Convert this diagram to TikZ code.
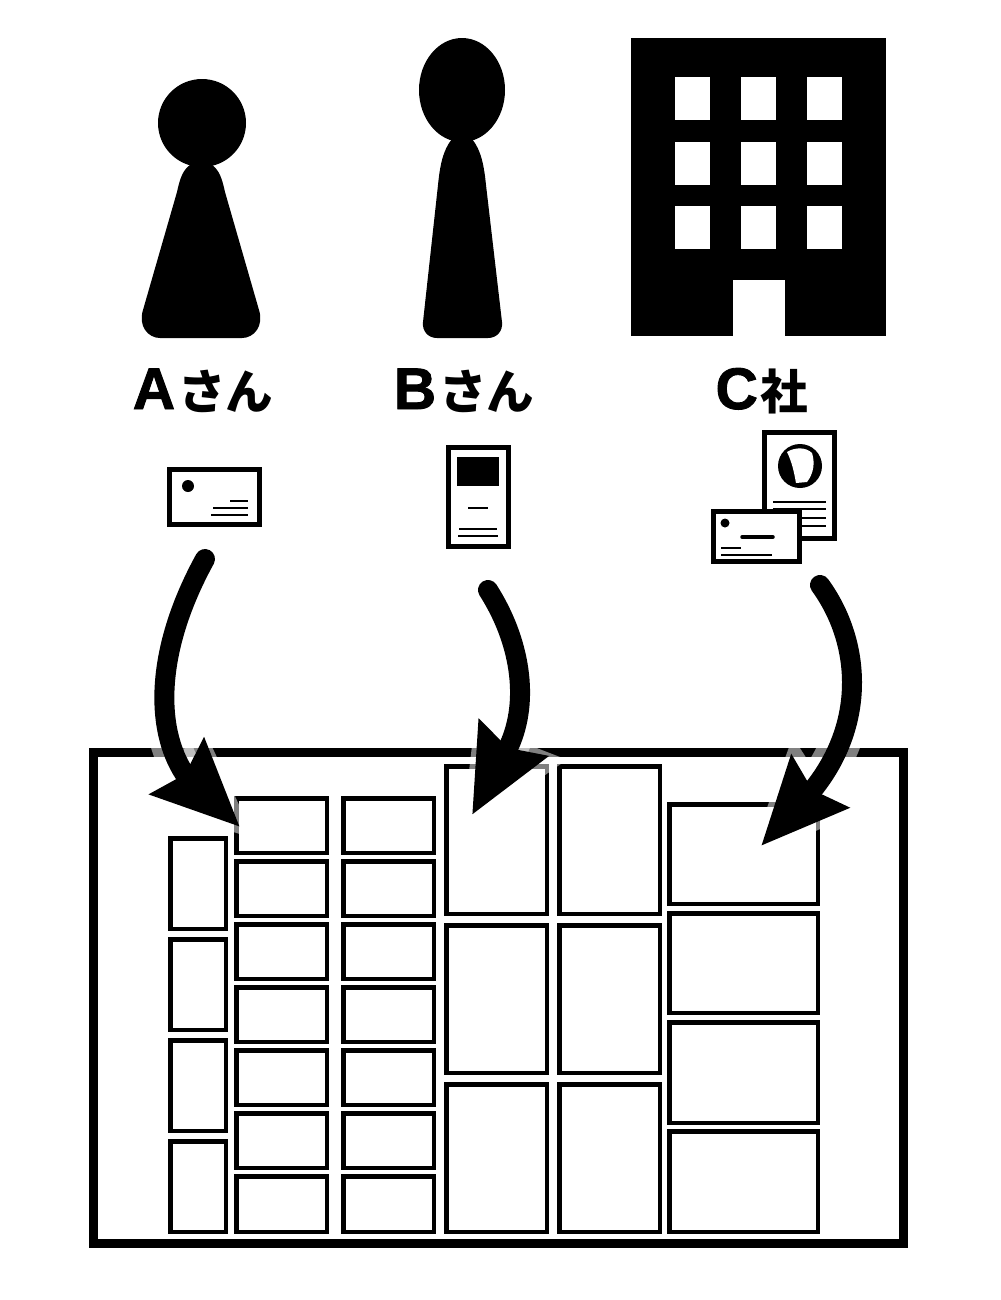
\documentclass[tikz,border=0pt]{standalone}
\usepackage{fontspec}
\usetikzlibrary{arrows.meta}
\setmainfont[BoldFeatures={FakeBold=1.5}]{Liberation Sans}
\newfontfamily\cjk[Scale=0.81, BoldFont={Noto Sans CJK JP Black}]{Noto Sans CJK JP}

\tikzset{
    cardbox/.style={draw=black, fill=white, line width=0.5mm},
    cellbox/.style={draw=black, line width=0.45mm},
    cardline/.style={line width=0.22mm},
    namelabel/.style={font=\fontsize{16.7}{20}\selectfont\bfseries, inner sep=0pt, anchor=base},
    flowarrow/.style={line width=2mm, line cap=round, -{Stealth[length=8.6mm, width=7.5mm, inset=1mm]}},
    flowhalo/.style={draw=white, opacity=0.5, line width=1.8mm, miter limit=10}
}

\begin{document}
\begin{tikzpicture}[
    x=0.1mm,    % one unit is one pixel of the sheet
    y=-0.1mm    % y runs downwards
]
    \useasboundingbox (0,0) rectangle (1000,1300);

    % --- 1. The People ---
    \fill (202,123) circle (44);
    \fill (190,165) .. controls (183,170) and (180,178) .. (177,192)
        -- (143,310) .. controls (138,326) and (148,338) .. (160,338)
        -- (242,338) .. controls (254,338) and (264,326) .. (259,310)
        -- (225,192) .. controls (222,178) and (219,170) .. (212,165) -- cycle;

    \fill (462,90) ellipse (43 and 52);
    \fill (452,139) .. controls (443,150) and (440,165) .. (438,185)
        -- (423,322) .. controls (422,331) and (428,338) .. (437,338)
        -- (488,338) .. controls (497,338) and (503,331) .. (502,322)
        -- (486,185) .. controls (484,165) and (481,150) .. (472,139) -- cycle;

    % --- 2. The Company Building ---
    \fill (631,38) rectangle (886,336);
    \foreach \wx in {675,741,807}
        \foreach \wy in {77,142,206}
            \fill[white] (\wx,\wy) rectangle ++(35,43);
    \fill[white] (733,280) rectangle (785,336);

    % --- 3. Names ---
    \node[namelabel] (nameA) at (203,409) {A\kern0.85pt{\cjk さん}};
    \node[namelabel] (nameB) at (464,409) {B\kern0.85pt{\cjk さん}};
    \node[namelabel] (nameC) at (762,409) {C\kern0.85pt{\cjk 社}};

    % --- 4. Cards ---
    % Card of A
    \draw[cardbox] (169.5,469.5) rectangle (259.5,524.5);
    \fill (188,486) circle (6);
    \draw[cardline] (230,501) -- (248,501);
    \draw[cardline] (213,508) -- (248,508);
    \draw[cardline] (211,515) -- (248,515);

    % Card of B
    \draw[cardbox] (448.5,447.5) rectangle (508.5,546.5);
    \fill (457,457) rectangle (499,486);
    \draw[cardline] (468,508) -- (488,508);
    \draw[cardline] (459,529) -- (497,529);
    \draw[cardline] (458,536) -- (498,536);

    % Flyer and card of C
    \draw[cardbox] (764.5,432.5) rectangle (834.5,538.5);
    \fill (800,466) circle (22);
    \fill[white] (787,452) .. controls (795,447) and (806,447) .. (812,453)
        .. controls (815,462) and (814,473) .. (807,482)
        -- (796,483) .. controls (794,472) and (792,462) .. (787,452) -- cycle;
    \foreach \ly in {502,509,518,526}
        \draw[cardline] (773,\ly) -- (826,\ly);
    \draw[cardbox] (713.5,511.5) rectangle (799.5,561.5);
    \fill (725,523) circle (4.5);
    \draw[line width=0.35mm, line cap=round] (742,537) -- (773,537);
    \draw[cardline] (721,548) -- (741,548);
    \draw[cardline] (721,555) -- (772,555);

    % --- 5. The Sheet and its Cells ---
    \draw[line width=0.9mm] (93.5,752.5) rectangle (903.5,1243.5);

    % Column of narrow cells
    \foreach \top/\bot in {836/931,937/1032,1038/1133,1139/1234}
        \draw[cellbox] (170.25,\top+2.25) rectangle (225.75,\bot-2.25);

    % Two columns of small cells
    \foreach \xa/\xb in {234/329,341/436}
        \foreach \top/\bot in {796/855,859/918,922/981,985/1044,1048/1107,1111/1170,1174/1234}
            \draw[cellbox] (\xa+2.25,\top+2.25) rectangle (\xb-2.25,\bot-2.25);

    % Two columns of tall cells
    \foreach \xa/\xb in {444/549,557/662}
        \foreach \top/\bot in {764/916,923/1075,1082/1234}
            \draw[cellbox] (\xa+2.25,\top+2.25) rectangle (\xb-2.25,\bot-2.25);

    % Column of wide cells
    \foreach \top/\bot in {802/906,911/1015,1020/1125,1129/1234}
        \draw[cellbox] (669.25,\top+2.25) rectangle (817.75,\bot-2.25);

    % --- 6. Arrows from the Cards to the Cells ---
    \coordinate (startA) at (205,559);
    \coordinate (bendA) at (184,773);
    \coordinate (endA) at (240,827);
    \coordinate (startB) at (488,590);
    \coordinate (bendB) at (509,746);
    \coordinate (endB) at (472,815);
    \coordinate (startC) at (820,585);
    \coordinate (bendC) at (815,787);
    \coordinate (endC) at (761,846);

    % White see-through rim under the arrows
    \draw[flowhalo, line width=4mm] (startA) .. controls (155,650) and (155,728) .. (bendA);
    \draw[flowhalo] (238,824) -- (149,795) -- (180,777) -- (199,740) -- cycle;
    \draw[flowhalo, line width=4mm] (startB) .. controls (520,640) and (530,700) .. (bendB);
    \draw[flowhalo] (473,815) -- (484,720) -- (509,747) -- (548,762) -- cycle;
    \draw[flowhalo, line width=4mm] (startC) .. controls (860,640) and (867,720) .. (bendC);
    \draw[flowhalo] (763,845) -- (795,757) -- (815,788) -- (849,806) -- cycle;

    \draw[flowarrow] (startA) .. controls (155,650) and (155,728) .. (bendA) -- (endA);
    \draw[flowarrow] (startB) .. controls (520,640) and (530,700) .. (bendB) -- (endB);
    \draw[flowarrow] (startC) .. controls (860,640) and (867,720) .. (bendC) -- (endC);

\end{tikzpicture}
\end{document}
